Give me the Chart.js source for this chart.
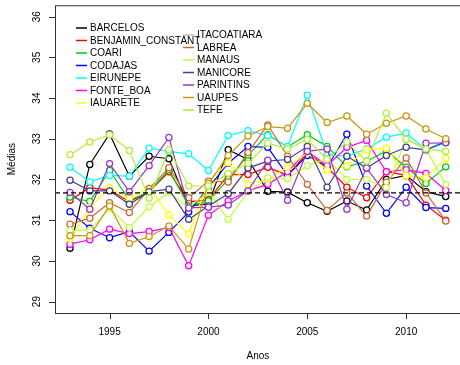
<!DOCTYPE html>
<html>
<head>
<meta charset="utf-8">
<script src="https://cdn.jsdelivr.net/npm/chart.js@4"></script>
<style>
  html, body { margin: 0; padding: 0; background: #fff; overflow: hidden; }
  canvas { display: block; }
</style>
</head>
<body>
<canvas id="myChart" width="466" height="365"></canvas>
<script>
const years = [1993, 1994, 1995, 1996, 1997, 1998, 1999, 2000, 2001, 2002,
               2003, 2004, 2005, 2006, 2007, 2008, 2009, 2010, 2011, 2012]

const stations = ['BARCELOS', 'BENJAMIN_CONSTANT', 'COARI', 'CODAJAS', 'EIRUNEPE', 'FONTE_BOA', 'IAUARETE',
                  'ITACOATIARA', 'LABREA', 'MANAUS', 'MANICORE', 'PARINTINS', 'UAUPES', 'TEFE']
const colors = ['#000000', '#ff0000', '#00cd00', '#0000ff', '#00ffff', '#ff00ff', '#ffff00',
                '#bebebe', '#cd6839', '#c0ff3e', '#483d8b', '#9a32cd', '#cd950c', '#b3ee3a']

const barcelos   = [30.31, 32.37, 33.12, 32.08, 32.57, 32.51, 31.35, 31.40, 32.73, 32.49, 31.71, 31.69, 31.43, 31.22, 31.47, 31.25, 32.00, 32.10, 31.70, 31.58]
const benjamin   = [31.49, 31.80, 31.74, 31.46, 31.70, 32.19, 31.45, 31.50, 32.12, 32.12, 32.30, 32.10, 32.65, 32.30, 31.81, 31.55, 32.19, 32.10, 31.37, 31.00]
const coari      = [31.57, 31.46, 32.22, 31.49, 31.70, 32.24, 31.35, 31.47, 32.00, 32.60, 33.10, 32.80, 33.10, 32.81, 32.31, 32.45, 32.70, 32.30, 31.90, 32.31]
const codajas    = [31.21, 30.80, 30.57, 30.72, 30.24, 30.70, 31.20, 31.80, 32.40, 32.81, 32.79, 32.10, 32.59, 32.30, 33.11, 31.84, 31.17, 31.81, 31.31, 31.29]
const eirunepe   = [32.30, 31.94, 32.10, 32.08, 32.77, 32.69, 32.63, 32.22, 33.08, 33.20, 33.08, 32.81, 34.07, 32.61, 32.57, 32.75, 33.04, 33.14, 32.73, 32.90]
const fonteBoa   = [30.41, 30.52, 30.78, 30.67, 30.72, 30.82, 29.88, 31.12, 31.47, 31.72, 31.88, 32.19, 32.70, 32.34, 32.79, 32.96, 32.19, 32.24, 32.15, 31.73]
const iauarete   = [30.54, 31.31, 31.80, 31.53, 31.80, 31.13, 30.66, 31.95, 32.41, 31.88, 32.00, 32.30, 32.65, 32.22, 32.33, 32.73, 32.77, 32.10, 32.04, 32.52]
// ITACOATIARA: no points visible in the figure
const itacoatiara = [null, null, null, null, null, null, null, null, null, null, null, null, null, null, null, null, null, null, null, null]
const labrea     = [30.90, 31.05, 31.43, 31.19, 31.77, 32.29, 31.55, 31.96, 31.94, 32.66, 33.34, 32.57, 31.88, 31.24, 31.67, 31.10, 31.93, 32.53, 31.67, 30.98]
const manaus     = [30.74, 30.76, 31.29, 30.82, 31.33, 31.68, 31.30, 31.70, 31.02, 31.70, 32.04, 32.02, 32.34, 32.51, 32.00, 32.00, 31.80, 32.99, 32.75, 31.88]
const manicore   = [31.98, 31.72, 31.72, 31.39, 31.70, 31.76, 31.02, 31.35, 31.65, 32.28, 32.45, 32.49, 32.81, 31.81, 32.57, 32.28, 32.59, 32.79, 32.73, 32.93]
const parintins  = [31.68, 31.27, 32.39, 31.70, 32.34, 33.03, 31.30, 31.32, 31.37, 31.72, 32.47, 31.49, 32.69, 32.75, 31.27, 32.28, 31.63, 31.43, 32.89, 32.90]
const uaupes     = [30.62, 30.62, 31.35, 30.43, 30.60, 30.86, 30.29, 31.90, 32.59, 33.07, 33.30, 33.26, 33.87, 33.40, 33.56, 33.11, 33.38, 33.56, 33.24, 33.00]
const tefe       = [32.61, 32.92, 33.10, 32.71, 31.54, 32.73, 31.84, 31.84, 32.15, 32.40, 32.89, 32.75, 32.98, 32.50, 32.92, 32.45, 33.63, 32.99, 32.75, 32.69]

const series = [barcelos, benjamin, coari, codajas, eirunepe, fonteBoa, iauarete,
                itacoatiara, labrea, manaus, manicore, parintins, uaupes, tefe]

const mediaGeral = 31.67
const xTicks = [1995, 2000, 2005, 2010]
const yTicks = [29, 30, 31, 32, 33, 34, 35, 36]
const xMin = 1992.24, xMax = 2012.76
const yMin = 28.72, yMax = 36.28

const FONT = '10px "Liberation Sans", Arial, sans-serif'

const datasets = stations.map((name, i) => ({
    label: name,
    data: years.map((yr, j) => ({ x: yr, y: series[i][j] })),
    borderColor: colors[i],
    pointBorderColor: colors[i],
    pointBackgroundColor: '#ffffff',
    pointRadius: 3.1,
    pointBorderWidth: 1.25,
    borderWidth: 1.2,
    tension: 0,
    order: stations.length - i + 1
}))

datasets.push({
    label: 'media',
    data: [{ x: xMin, y: mediaGeral }, { x: xMax, y: mediaGeral }],
    borderColor: '#000000',
    borderDash: [5, 3],
    borderWidth: 1.2,
    pointRadius: 0,
    order: 0
})

// R-like axes, box and legend
const rStyle = {
    id: 'rStyle',
    afterDatasetsDraw(chart) {
        const { ctx, chartArea: a, scales: { x, y } } = chart
        ctx.save()
        ctx.strokeStyle = '#333'
        ctx.lineWidth = 1
        ctx.strokeRect(a.left + 0.5, a.top + 0.5, a.right - a.left, a.bottom - a.top)

        ctx.fillStyle = '#000'
        ctx.font = FONT

        // x axis
        ctx.beginPath()
        ctx.moveTo(x.getPixelForValue(xTicks[0]), a.bottom + 0.5)
        ctx.lineTo(x.getPixelForValue(xTicks[xTicks.length - 1]), a.bottom + 0.5)
        xTicks.forEach(t => {
            const px = Math.round(x.getPixelForValue(t)) + 0.5
            ctx.moveTo(px, a.bottom)
            ctx.lineTo(px, a.bottom + 6)
        })
        ctx.stroke()
        ctx.textAlign = 'center'
        ctx.textBaseline = 'middle'
        xTicks.forEach(t => ctx.fillText(String(t), x.getPixelForValue(t), 332))
        ctx.fillText('Anos', (a.left + a.right) / 2, 356)

        // y axis
        ctx.beginPath()
        ctx.moveTo(a.left + 0.5, y.getPixelForValue(yTicks[0]))
        ctx.lineTo(a.left + 0.5, y.getPixelForValue(yTicks[yTicks.length - 1]))
        yTicks.forEach(t => {
            const py = Math.round(y.getPixelForValue(t)) + 0.5
            ctx.moveTo(a.left, py)
            ctx.lineTo(a.left - 6, py)
        })
        ctx.stroke()
        yTicks.forEach(t => {
            ctx.save()
            ctx.translate(37, y.getPixelForValue(t))
            ctx.rotate(-Math.PI / 2)
            ctx.fillText(String(t), 0, 0)
            ctx.restore()
        })
        ctx.save()
        ctx.translate(12, (a.top + a.bottom) / 2)
        ctx.rotate(-Math.PI / 2)
        ctx.fillText('Médias', 0, 0)
        ctx.restore()

        // legend, two columns
        ctx.textAlign = 'left'
        ctx.lineWidth = 1.5
        stations.forEach((name, i) => {
            const col = i < 7 ? 0 : 1
            const row = i < 7 ? i : i - 7
            const lx = col === 0 ? 76 : 183
            const ly = (col === 0 ? 28 : 35) + row * 12.5
            ctx.strokeStyle = colors[i]
            ctx.beginPath()
            ctx.moveTo(lx, ly)
            ctx.lineTo(lx + 11, ly)
            ctx.stroke()
            ctx.fillStyle = '#000'
            ctx.fillText(name, lx + 14, ly + 0.5)
        })
        ctx.restore()
    }
}

new Chart(document.querySelector('#myChart'), {
    type: 'line',
    data: { datasets },
    options: {
        responsive: false,
        animation: false,
        devicePixelRatio: 1,
        layout: { padding: { left: 55, top: 5, right: 4, bottom: 52 } },
        scales: {
            x: { type: 'linear', min: xMin, max: xMax, display: false },
            y: { min: yMin, max: yMax, display: false }
        },
        plugins: {
            legend: { display: false },
            tooltip: { enabled: false }
        }
    },
    plugins: [rStyle]
})
</script>
</body>
</html>
